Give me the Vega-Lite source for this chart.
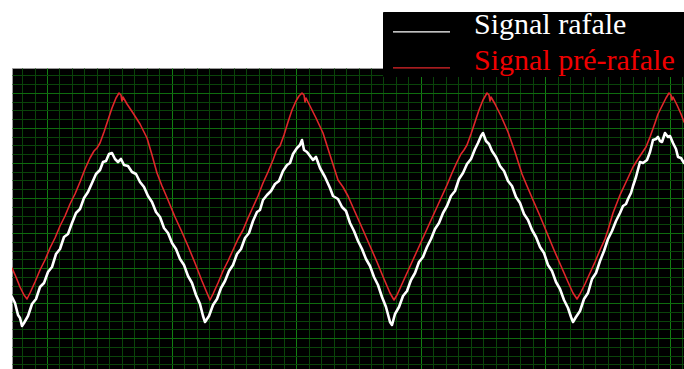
{
  "$schema": "https://vega.github.io/schema/vega-lite/v6.json",
  "width": 672,
  "height": 301,
  "autosize": {"type": "none"},
  "padding": {"left": 12, "top": 68, "right": 0, "bottom": 0},
  "background": "white",
  "config": {"view": {"fill": "black", "stroke": "#9a9a9a", "strokeWidth": 1}},
  "data": {
    "values": [
      {"t": 0, "a": 72, "s": "Signal rafale"},
      {"t": 3, "a": 66, "s": "Signal rafale"},
      {"t": 6, "a": 54, "s": "Signal rafale"},
      {"t": 8, "a": 51, "s": "Signal rafale"},
      {"t": 10, "a": 43, "s": "Signal rafale"},
      {"t": 12, "a": 46, "s": "Signal rafale"},
      {"t": 16, "a": 53, "s": "Signal rafale"},
      {"t": 20, "a": 65, "s": "Signal rafale"},
      {"t": 24, "a": 70, "s": "Signal rafale"},
      {"t": 28, "a": 82, "s": "Signal rafale"},
      {"t": 32, "a": 86, "s": "Signal rafale"},
      {"t": 36, "a": 97, "s": "Signal rafale"},
      {"t": 40, "a": 102, "s": "Signal rafale"},
      {"t": 44, "a": 115, "s": "Signal rafale"},
      {"t": 48, "a": 120, "s": "Signal rafale"},
      {"t": 52, "a": 132, "s": "Signal rafale"},
      {"t": 56, "a": 135, "s": "Signal rafale"},
      {"t": 60, "a": 146, "s": "Signal rafale"},
      {"t": 64, "a": 156, "s": "Signal rafale"},
      {"t": 68, "a": 160, "s": "Signal rafale"},
      {"t": 72, "a": 171, "s": "Signal rafale"},
      {"t": 76, "a": 177, "s": "Signal rafale"},
      {"t": 80, "a": 186, "s": "Signal rafale"},
      {"t": 84, "a": 195, "s": "Signal rafale"},
      {"t": 88, "a": 199, "s": "Signal rafale"},
      {"t": 91, "a": 207, "s": "Signal rafale"},
      {"t": 94, "a": 208, "s": "Signal rafale"},
      {"t": 97, "a": 215, "s": "Signal rafale"},
      {"t": 100, "a": 216, "s": "Signal rafale"},
      {"t": 103, "a": 210, "s": "Signal rafale"},
      {"t": 106, "a": 207, "s": "Signal rafale"},
      {"t": 109, "a": 210, "s": "Signal rafale"},
      {"t": 112, "a": 204, "s": "Signal rafale"},
      {"t": 116, "a": 203, "s": "Signal rafale"},
      {"t": 120, "a": 197, "s": "Signal rafale"},
      {"t": 124, "a": 195, "s": "Signal rafale"},
      {"t": 128, "a": 187, "s": "Signal rafale"},
      {"t": 132, "a": 182, "s": "Signal rafale"},
      {"t": 136, "a": 173, "s": "Signal rafale"},
      {"t": 140, "a": 167, "s": "Signal rafale"},
      {"t": 144, "a": 157, "s": "Signal rafale"},
      {"t": 148, "a": 152, "s": "Signal rafale"},
      {"t": 152, "a": 141, "s": "Signal rafale"},
      {"t": 156, "a": 136, "s": "Signal rafale"},
      {"t": 160, "a": 126, "s": "Signal rafale"},
      {"t": 164, "a": 120, "s": "Signal rafale"},
      {"t": 168, "a": 110, "s": "Signal rafale"},
      {"t": 172, "a": 104, "s": "Signal rafale"},
      {"t": 176, "a": 93, "s": "Signal rafale"},
      {"t": 180, "a": 86, "s": "Signal rafale"},
      {"t": 184, "a": 74, "s": "Signal rafale"},
      {"t": 188, "a": 65, "s": "Signal rafale"},
      {"t": 191, "a": 53, "s": "Signal rafale"},
      {"t": 193, "a": 47, "s": "Signal rafale"},
      {"t": 195, "a": 50, "s": "Signal rafale"},
      {"t": 197, "a": 53, "s": "Signal rafale"},
      {"t": 201, "a": 64, "s": "Signal rafale"},
      {"t": 205, "a": 70, "s": "Signal rafale"},
      {"t": 209, "a": 81, "s": "Signal rafale"},
      {"t": 213, "a": 88, "s": "Signal rafale"},
      {"t": 217, "a": 98, "s": "Signal rafale"},
      {"t": 221, "a": 104, "s": "Signal rafale"},
      {"t": 225, "a": 115, "s": "Signal rafale"},
      {"t": 229, "a": 120, "s": "Signal rafale"},
      {"t": 233, "a": 131, "s": "Signal rafale"},
      {"t": 237, "a": 136, "s": "Signal rafale"},
      {"t": 241, "a": 148, "s": "Signal rafale"},
      {"t": 245, "a": 157, "s": "Signal rafale"},
      {"t": 248, "a": 159, "s": "Signal rafale"},
      {"t": 251, "a": 169, "s": "Signal rafale"},
      {"t": 255, "a": 174, "s": "Signal rafale"},
      {"t": 259, "a": 178, "s": "Signal rafale"},
      {"t": 263, "a": 185, "s": "Signal rafale"},
      {"t": 267, "a": 188, "s": "Signal rafale"},
      {"t": 271, "a": 198, "s": "Signal rafale"},
      {"t": 275, "a": 204, "s": "Signal rafale"},
      {"t": 278, "a": 206, "s": "Signal rafale"},
      {"t": 281, "a": 215, "s": "Signal rafale"},
      {"t": 285, "a": 221, "s": "Signal rafale"},
      {"t": 288, "a": 224, "s": "Signal rafale"},
      {"t": 290, "a": 229, "s": "Signal rafale"},
      {"t": 292, "a": 219, "s": "Signal rafale"},
      {"t": 295, "a": 217, "s": "Signal rafale"},
      {"t": 298, "a": 213, "s": "Signal rafale"},
      {"t": 301, "a": 209, "s": "Signal rafale"},
      {"t": 304, "a": 212, "s": "Signal rafale"},
      {"t": 308, "a": 201, "s": "Signal rafale"},
      {"t": 313, "a": 192, "s": "Signal rafale"},
      {"t": 318, "a": 181, "s": "Signal rafale"},
      {"t": 321, "a": 173, "s": "Signal rafale"},
      {"t": 326, "a": 170, "s": "Signal rafale"},
      {"t": 330, "a": 162, "s": "Signal rafale"},
      {"t": 334, "a": 158, "s": "Signal rafale"},
      {"t": 338, "a": 146, "s": "Signal rafale"},
      {"t": 342, "a": 138, "s": "Signal rafale"},
      {"t": 346, "a": 128, "s": "Signal rafale"},
      {"t": 350, "a": 120, "s": "Signal rafale"},
      {"t": 354, "a": 110, "s": "Signal rafale"},
      {"t": 358, "a": 103, "s": "Signal rafale"},
      {"t": 362, "a": 92, "s": "Signal rafale"},
      {"t": 366, "a": 84, "s": "Signal rafale"},
      {"t": 370, "a": 72, "s": "Signal rafale"},
      {"t": 374, "a": 62, "s": "Signal rafale"},
      {"t": 378, "a": 47, "s": "Signal rafale"},
      {"t": 380, "a": 44, "s": "Signal rafale"},
      {"t": 383, "a": 55, "s": "Signal rafale"},
      {"t": 387, "a": 62, "s": "Signal rafale"},
      {"t": 391, "a": 73, "s": "Signal rafale"},
      {"t": 395, "a": 78, "s": "Signal rafale"},
      {"t": 399, "a": 89, "s": "Signal rafale"},
      {"t": 403, "a": 96, "s": "Signal rafale"},
      {"t": 407, "a": 107, "s": "Signal rafale"},
      {"t": 411, "a": 112, "s": "Signal rafale"},
      {"t": 415, "a": 122, "s": "Signal rafale"},
      {"t": 419, "a": 130, "s": "Signal rafale"},
      {"t": 423, "a": 140, "s": "Signal rafale"},
      {"t": 427, "a": 146, "s": "Signal rafale"},
      {"t": 431, "a": 156, "s": "Signal rafale"},
      {"t": 435, "a": 163, "s": "Signal rafale"},
      {"t": 439, "a": 173, "s": "Signal rafale"},
      {"t": 443, "a": 178, "s": "Signal rafale"},
      {"t": 447, "a": 190, "s": "Signal rafale"},
      {"t": 451, "a": 196, "s": "Signal rafale"},
      {"t": 455, "a": 205, "s": "Signal rafale"},
      {"t": 459, "a": 210, "s": "Signal rafale"},
      {"t": 463, "a": 220, "s": "Signal rafale"},
      {"t": 466, "a": 226, "s": "Signal rafale"},
      {"t": 469, "a": 233, "s": "Signal rafale"},
      {"t": 471, "a": 236, "s": "Signal rafale"},
      {"t": 474, "a": 228, "s": "Signal rafale"},
      {"t": 477, "a": 225, "s": "Signal rafale"},
      {"t": 480, "a": 218, "s": "Signal rafale"},
      {"t": 484, "a": 212, "s": "Signal rafale"},
      {"t": 488, "a": 203, "s": "Signal rafale"},
      {"t": 492, "a": 198, "s": "Signal rafale"},
      {"t": 496, "a": 188, "s": "Signal rafale"},
      {"t": 500, "a": 183, "s": "Signal rafale"},
      {"t": 504, "a": 172, "s": "Signal rafale"},
      {"t": 508, "a": 166, "s": "Signal rafale"},
      {"t": 512, "a": 155, "s": "Signal rafale"},
      {"t": 516, "a": 149, "s": "Signal rafale"},
      {"t": 520, "a": 139, "s": "Signal rafale"},
      {"t": 524, "a": 132, "s": "Signal rafale"},
      {"t": 528, "a": 122, "s": "Signal rafale"},
      {"t": 532, "a": 116, "s": "Signal rafale"},
      {"t": 536, "a": 104, "s": "Signal rafale"},
      {"t": 540, "a": 98, "s": "Signal rafale"},
      {"t": 544, "a": 87, "s": "Signal rafale"},
      {"t": 548, "a": 80, "s": "Signal rafale"},
      {"t": 552, "a": 69, "s": "Signal rafale"},
      {"t": 556, "a": 61, "s": "Signal rafale"},
      {"t": 559, "a": 52, "s": "Signal rafale"},
      {"t": 561, "a": 47, "s": "Signal rafale"},
      {"t": 564, "a": 52, "s": "Signal rafale"},
      {"t": 568, "a": 58, "s": "Signal rafale"},
      {"t": 572, "a": 70, "s": "Signal rafale"},
      {"t": 576, "a": 76, "s": "Signal rafale"},
      {"t": 580, "a": 90, "s": "Signal rafale"},
      {"t": 584, "a": 96, "s": "Signal rafale"},
      {"t": 588, "a": 108, "s": "Signal rafale"},
      {"t": 592, "a": 118, "s": "Signal rafale"},
      {"t": 596, "a": 130, "s": "Signal rafale"},
      {"t": 600, "a": 138, "s": "Signal rafale"},
      {"t": 604, "a": 148, "s": "Signal rafale"},
      {"t": 608, "a": 156, "s": "Signal rafale"},
      {"t": 611, "a": 163, "s": "Signal rafale"},
      {"t": 614, "a": 165, "s": "Signal rafale"},
      {"t": 616, "a": 170, "s": "Signal rafale"},
      {"t": 619, "a": 176, "s": "Signal rafale"},
      {"t": 621, "a": 183, "s": "Signal rafale"},
      {"t": 624, "a": 192, "s": "Signal rafale"},
      {"t": 628, "a": 207, "s": "Signal rafale"},
      {"t": 631, "a": 206, "s": "Signal rafale"},
      {"t": 635, "a": 209, "s": "Signal rafale"},
      {"t": 638, "a": 217, "s": "Signal rafale"},
      {"t": 641, "a": 229, "s": "Signal rafale"},
      {"t": 644, "a": 230, "s": "Signal rafale"},
      {"t": 646, "a": 232, "s": "Signal rafale"},
      {"t": 648, "a": 228, "s": "Signal rafale"},
      {"t": 650, "a": 227, "s": "Signal rafale"},
      {"t": 653, "a": 236, "s": "Signal rafale"},
      {"t": 656, "a": 232, "s": "Signal rafale"},
      {"t": 658, "a": 233, "s": "Signal rafale"},
      {"t": 661, "a": 226, "s": "Signal rafale"},
      {"t": 664, "a": 220, "s": "Signal rafale"},
      {"t": 666, "a": 212, "s": "Signal rafale"},
      {"t": 669, "a": 211, "s": "Signal rafale"},
      {"t": 672, "a": 206, "s": "Signal rafale"},

      {"t": 0, "a": 101, "s": "Signal pré-rafale"},
      {"t": 4, "a": 92, "s": "Signal pré-rafale"},
      {"t": 8, "a": 82, "s": "Signal pré-rafale"},
      {"t": 12, "a": 74, "s": "Signal pré-rafale"},
      {"t": 15, "a": 70, "s": "Signal pré-rafale"},
      {"t": 18, "a": 76, "s": "Signal pré-rafale"},
      {"t": 23, "a": 87, "s": "Signal pré-rafale"},
      {"t": 28, "a": 99, "s": "Signal pré-rafale"},
      {"t": 33, "a": 109, "s": "Signal pré-rafale"},
      {"t": 38, "a": 121, "s": "Signal pré-rafale"},
      {"t": 43, "a": 131, "s": "Signal pré-rafale"},
      {"t": 48, "a": 143, "s": "Signal pré-rafale"},
      {"t": 53, "a": 153, "s": "Signal pré-rafale"},
      {"t": 58, "a": 165, "s": "Signal pré-rafale"},
      {"t": 63, "a": 175, "s": "Signal pré-rafale"},
      {"t": 68, "a": 187, "s": "Signal pré-rafale"},
      {"t": 73, "a": 200, "s": "Signal pré-rafale"},
      {"t": 78, "a": 211, "s": "Signal pré-rafale"},
      {"t": 82, "a": 218, "s": "Signal pré-rafale"},
      {"t": 85, "a": 221, "s": "Signal pré-rafale"},
      {"t": 88, "a": 226, "s": "Signal pré-rafale"},
      {"t": 92, "a": 237, "s": "Signal pré-rafale"},
      {"t": 96, "a": 249, "s": "Signal pré-rafale"},
      {"t": 100, "a": 261, "s": "Signal pré-rafale"},
      {"t": 104, "a": 271, "s": "Signal pré-rafale"},
      {"t": 107, "a": 276, "s": "Signal pré-rafale"},
      {"t": 109, "a": 274, "s": "Signal pré-rafale"},
      {"t": 110, "a": 268, "s": "Signal pré-rafale"},
      {"t": 111, "a": 272, "s": "Signal pré-rafale"},
      {"t": 115, "a": 265, "s": "Signal pré-rafale"},
      {"t": 121, "a": 256, "s": "Signal pré-rafale"},
      {"t": 128, "a": 245, "s": "Signal pré-rafale"},
      {"t": 135, "a": 231, "s": "Signal pré-rafale"},
      {"t": 140, "a": 214, "s": "Signal pré-rafale"},
      {"t": 145, "a": 196, "s": "Signal pré-rafale"},
      {"t": 150, "a": 183, "s": "Signal pré-rafale"},
      {"t": 156, "a": 169, "s": "Signal pré-rafale"},
      {"t": 163, "a": 152, "s": "Signal pré-rafale"},
      {"t": 169, "a": 139, "s": "Signal pré-rafale"},
      {"t": 176, "a": 123, "s": "Signal pré-rafale"},
      {"t": 183, "a": 106, "s": "Signal pré-rafale"},
      {"t": 190, "a": 88, "s": "Signal pré-rafale"},
      {"t": 195, "a": 76, "s": "Signal pré-rafale"},
      {"t": 198, "a": 69, "s": "Signal pré-rafale"},
      {"t": 201, "a": 75, "s": "Signal pré-rafale"},
      {"t": 206, "a": 86, "s": "Signal pré-rafale"},
      {"t": 211, "a": 98, "s": "Signal pré-rafale"},
      {"t": 216, "a": 108, "s": "Signal pré-rafale"},
      {"t": 221, "a": 119, "s": "Signal pré-rafale"},
      {"t": 226, "a": 130, "s": "Signal pré-rafale"},
      {"t": 231, "a": 139, "s": "Signal pré-rafale"},
      {"t": 236, "a": 151, "s": "Signal pré-rafale"},
      {"t": 241, "a": 162, "s": "Signal pré-rafale"},
      {"t": 246, "a": 173, "s": "Signal pré-rafale"},
      {"t": 251, "a": 186, "s": "Signal pré-rafale"},
      {"t": 256, "a": 197, "s": "Signal pré-rafale"},
      {"t": 261, "a": 209, "s": "Signal pré-rafale"},
      {"t": 265, "a": 220, "s": "Signal pré-rafale"},
      {"t": 268, "a": 223, "s": "Signal pré-rafale"},
      {"t": 272, "a": 234, "s": "Signal pré-rafale"},
      {"t": 276, "a": 247, "s": "Signal pré-rafale"},
      {"t": 280, "a": 259, "s": "Signal pré-rafale"},
      {"t": 284, "a": 268, "s": "Signal pré-rafale"},
      {"t": 287, "a": 273, "s": "Signal pré-rafale"},
      {"t": 290, "a": 276, "s": "Signal pré-rafale"},
      {"t": 292, "a": 274, "s": "Signal pré-rafale"},
      {"t": 293, "a": 267, "s": "Signal pré-rafale"},
      {"t": 294, "a": 271, "s": "Signal pré-rafale"},
      {"t": 298, "a": 263, "s": "Signal pré-rafale"},
      {"t": 304, "a": 251, "s": "Signal pré-rafale"},
      {"t": 311, "a": 236, "s": "Signal pré-rafale"},
      {"t": 318, "a": 214, "s": "Signal pré-rafale"},
      {"t": 326, "a": 189, "s": "Signal pré-rafale"},
      {"t": 331, "a": 182, "s": "Signal pré-rafale"},
      {"t": 336, "a": 173, "s": "Signal pré-rafale"},
      {"t": 343, "a": 157, "s": "Signal pré-rafale"},
      {"t": 351, "a": 139, "s": "Signal pré-rafale"},
      {"t": 358, "a": 123, "s": "Signal pré-rafale"},
      {"t": 365, "a": 107, "s": "Signal pré-rafale"},
      {"t": 372, "a": 90, "s": "Signal pré-rafale"},
      {"t": 378, "a": 76, "s": "Signal pré-rafale"},
      {"t": 382, "a": 69, "s": "Signal pré-rafale"},
      {"t": 385, "a": 74, "s": "Signal pré-rafale"},
      {"t": 390, "a": 85, "s": "Signal pré-rafale"},
      {"t": 395, "a": 96, "s": "Signal pré-rafale"},
      {"t": 400, "a": 107, "s": "Signal pré-rafale"},
      {"t": 405, "a": 118, "s": "Signal pré-rafale"},
      {"t": 410, "a": 129, "s": "Signal pré-rafale"},
      {"t": 415, "a": 140, "s": "Signal pré-rafale"},
      {"t": 420, "a": 151, "s": "Signal pré-rafale"},
      {"t": 425, "a": 162, "s": "Signal pré-rafale"},
      {"t": 430, "a": 173, "s": "Signal pré-rafale"},
      {"t": 435, "a": 184, "s": "Signal pré-rafale"},
      {"t": 440, "a": 196, "s": "Signal pré-rafale"},
      {"t": 445, "a": 207, "s": "Signal pré-rafale"},
      {"t": 449, "a": 215, "s": "Signal pré-rafale"},
      {"t": 452, "a": 219, "s": "Signal pré-rafale"},
      {"t": 455, "a": 224, "s": "Signal pré-rafale"},
      {"t": 459, "a": 235, "s": "Signal pré-rafale"},
      {"t": 463, "a": 247, "s": "Signal pré-rafale"},
      {"t": 467, "a": 259, "s": "Signal pré-rafale"},
      {"t": 471, "a": 269, "s": "Signal pré-rafale"},
      {"t": 475, "a": 276, "s": "Signal pré-rafale"},
      {"t": 477, "a": 274, "s": "Signal pré-rafale"},
      {"t": 478, "a": 268, "s": "Signal pré-rafale"},
      {"t": 479, "a": 272, "s": "Signal pré-rafale"},
      {"t": 483, "a": 265, "s": "Signal pré-rafale"},
      {"t": 489, "a": 253, "s": "Signal pré-rafale"},
      {"t": 496, "a": 237, "s": "Signal pré-rafale"},
      {"t": 503, "a": 217, "s": "Signal pré-rafale"},
      {"t": 510, "a": 195, "s": "Signal pré-rafale"},
      {"t": 515, "a": 183, "s": "Signal pré-rafale"},
      {"t": 521, "a": 169, "s": "Signal pré-rafale"},
      {"t": 528, "a": 153, "s": "Signal pré-rafale"},
      {"t": 535, "a": 136, "s": "Signal pré-rafale"},
      {"t": 542, "a": 119, "s": "Signal pré-rafale"},
      {"t": 549, "a": 103, "s": "Signal pré-rafale"},
      {"t": 556, "a": 87, "s": "Signal pré-rafale"},
      {"t": 561, "a": 76, "s": "Signal pré-rafale"},
      {"t": 565, "a": 70, "s": "Signal pré-rafale"},
      {"t": 568, "a": 75, "s": "Signal pré-rafale"},
      {"t": 573, "a": 85, "s": "Signal pré-rafale"},
      {"t": 578, "a": 96, "s": "Signal pré-rafale"},
      {"t": 583, "a": 107, "s": "Signal pré-rafale"},
      {"t": 588, "a": 119, "s": "Signal pré-rafale"},
      {"t": 593, "a": 130, "s": "Signal pré-rafale"},
      {"t": 596, "a": 139, "s": "Signal pré-rafale"},
      {"t": 601, "a": 156, "s": "Signal pré-rafale"},
      {"t": 608, "a": 174, "s": "Signal pré-rafale"},
      {"t": 615, "a": 189, "s": "Signal pré-rafale"},
      {"t": 621, "a": 202, "s": "Signal pré-rafale"},
      {"t": 626, "a": 210, "s": "Signal pré-rafale"},
      {"t": 630, "a": 216, "s": "Signal pré-rafale"},
      {"t": 634, "a": 222, "s": "Signal pré-rafale"},
      {"t": 638, "a": 232, "s": "Signal pré-rafale"},
      {"t": 643, "a": 246, "s": "Signal pré-rafale"},
      {"t": 646, "a": 255, "s": "Signal pré-rafale"},
      {"t": 650, "a": 263, "s": "Signal pré-rafale"},
      {"t": 654, "a": 271, "s": "Signal pré-rafale"},
      {"t": 657, "a": 276, "s": "Signal pré-rafale"},
      {"t": 659, "a": 274, "s": "Signal pré-rafale"},
      {"t": 660, "a": 269, "s": "Signal pré-rafale"},
      {"t": 661, "a": 272, "s": "Signal pré-rafale"},
      {"t": 665, "a": 264, "s": "Signal pré-rafale"},
      {"t": 669, "a": 255, "s": "Signal pré-rafale"},
      {"t": 672, "a": 247, "s": "Signal pré-rafale"}
    ]
  },
  "mark": {"type": "line", "strokeJoin": "round", "strokeCap": "round", "clip": true},
  "encoding": {
    "x": {
      "field": "t",
      "type": "quantitative",
      "scale": {"domain": [0, 672], "nice": false, "zero": false},
      "axis": {
        "title": null,
        "labels": false,
        "ticks": false,
        "domain": false,
        "grid": true,
        "values": [10.08, 22.54, 35, 47.46, 59.92, 72.38, 84.84, 97.3, 109.76, 122.22, 134.68, 147.14, 159.6, 172.06, 184.52, 196.98, 209.44, 221.9, 234.36, 246.82, 259.28, 271.74, 284.2, 296.66, 309.12, 321.58, 334.04, 346.5, 358.96, 371.42, 383.88, 396.34, 408.8, 421.26, 433.72, 446.18, 458.64, 471.1, 483.56, 496.02, 508.48, 520.94, 533.4, 545.86, 558.32, 570.78, 583.24, 595.7, 608.16, 620.62, 633.08, 645.54, 658, 670.46],
        "gridColor": {"condition": {"test": "round((datum.value - 35) / 12.46) % 10 === 0", "value": "#127e12"}, "value": "#0a440a"},
        "gridWidth": 1,
        "gridOpacity": 1
      }
    },
    "y": {
      "field": "a",
      "type": "quantitative",
      "scale": {"domain": [0, 301], "nice": false, "zero": false},
      "axis": {
        "title": null,
        "labels": false,
        "ticks": false,
        "domain": false,
        "grid": true,
        "values": [4.75, 13.5, 22.25, 31, 39.75, 48.5, 57.25, 66, 74.75, 83.5, 92.25, 101, 109.75, 118.5, 127.25, 136, 144.75, 153.5, 162.25, 171, 179.75, 188.5, 197.25, 206, 214.75, 223.5, 232.25, 241, 249.75, 258.5, 267.25, 276, 284.75, 293.5],
        "gridColor": {"condition": {"test": "round((datum.value - 31) / 8.75) % 4 === 0", "value": "#0f6c0f"}, "value": "#0a440a"},
        "gridWidth": 1,
        "gridOpacity": 1
      }
    },
    "color": {
      "field": "s",
      "type": "nominal",
      "scale": {"domain": ["Signal rafale", "Signal pré-rafale"], "range": ["#ffffff", "#e0262a"]},
      "legend": {
        "orient": "none",
        "legendX": 371,
        "legendY": -56,
        "title": null,
        "fillColor": "black",
        "strokeColor": "black",
        "padding": 0,
        "symbolType": "M13.5,0M-0.554,-0.077H2.193",
        "symbolSize": 1722,
        "symbolStrokeWidth": 1.4,
        "labelFont": "Liberation Serif",
        "labelFontSize": 30,
        "labelOffset": 48,
        "labelBaseline": "alphabetic",
        "labelLimit": 400,
        "rowPadding": 5,
        "encode": {
          "labels": {"update": {"fill": {"signal": "datum.value === 'Signal rafale' ? '#ffffff' : '#f00000'"}}}
        }
      }
    },
    "strokeWidth": {
      "condition": {"test": "datum.s === 'Signal rafale'", "value": 2.6},
      "value": 1.6
    }
  }
}
